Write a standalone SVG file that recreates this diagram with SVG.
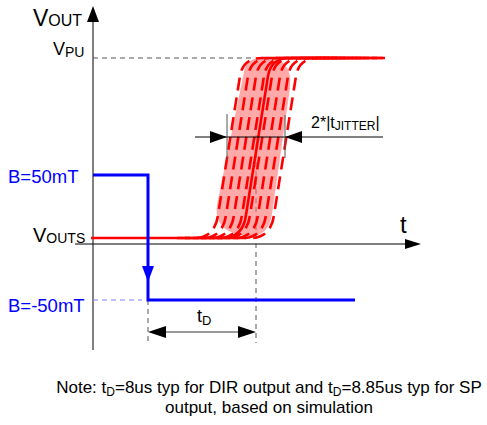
<svg xmlns="http://www.w3.org/2000/svg" width="487" height="425" viewBox="0 0 487 425">
<style>
text{font-family:"Liberation Sans",Arial,sans-serif;fill:#000}
.blue{fill:#0000ff}
.dash{fill:none;stroke:#555;stroke-width:1;stroke-dasharray:5 4}
.rd{fill:none;stroke:#ff0000;stroke-width:2.6;stroke-dasharray:13 7}
.ah{fill:#000}
</style>
<defs>
<path id="tr" d="M 205 238 L 222 238 Q 243 238 246 215 L 268 76 Q 271 58 290 58 L 362 58"/>
</defs>
<rect width="487" height="425" fill="#fff"/>
<g id="axes">
<line x1="93" y1="350" x2="93" y2="18" stroke="#808080" stroke-width="2"/>
<polygon class="ah" points="93,6 87,22 99,22"/>
<line x1="75" y1="244" x2="408" y2="244" stroke="#000" stroke-width="1.2"/>
<polygon class="ah" points="421,244 405,239 405,249"/>
</g>
<g id="labels">
<text x="33" y="26"><tspan font-size="23">V</tspan><tspan font-size="16">OUT</tspan></text>
<text x="53" y="55"><tspan font-size="18">V</tspan><tspan font-size="14" dy="2">PU</tspan></text>
<text x="33" y="242"><tspan font-size="20">V</tspan><tspan font-size="14" dy="1">OUTS</tspan></text>
<text x="8" y="183" font-size="18.5" class="blue">B=50mT</text>
<text x="8" y="312" font-size="18.5" class="blue">B=-50mT</text>
<text x="400" y="233" font-size="24">t</text>
</g>
<g id="connectors">
<line class="dash" x1="93" y1="58" x2="252" y2="58"/>
<line x1="93" y1="300" x2="142" y2="300" stroke="#8080ff" stroke-width="1.2" stroke-dasharray="5 4"/>
<line class="dash" x1="148" y1="300" x2="148" y2="343"/>
<line class="dash" x1="256" y1="135" x2="256" y2="343"/>
</g>
<g id="jitter-band">
<path d="M 245 67 Q 251 56 268 57 Q 293 60 290 88 L 272 214 Q 268 238 248 236 Q 213 233 217 205 Z" fill="#ff7070" fill-opacity="0.6"/>
<use href="#tr" class="rd" transform="translate(-28 0)"/>
<use href="#tr" class="rd" transform="translate(-20 0)"/>
<use href="#tr" class="rd" transform="translate(-12 0)"/>
<use href="#tr" class="rd" transform="translate(-4 0)"/>
<use href="#tr" class="rd" transform="translate(4 0)"/>
<use href="#tr" class="rd" transform="translate(12 0)"/>
<use href="#tr" class="rd" transform="translate(20 0)"/>
<use href="#tr" class="rd" transform="translate(28 0)"/>
<path d="M 91 238 L 222 238 Q 243 238 246 215 L 268 76 Q 271 58 290 58 L 383 58" fill="none" stroke="#ff0000" stroke-width="2.6"/>
</g>
<g id="b-field">
<path d="M 93 175 H 148 V 300 H 355" fill="none" stroke="#0000ff" stroke-width="3"/>
<polygon points="148,282 142,266 154,266" fill="#0000ff"/>
</g>
<g id="jitter-dim">
<line x1="195" y1="137" x2="383" y2="137" stroke="#000" stroke-width="1"/>
<line x1="227" y1="114" x2="227" y2="160" stroke="#555" stroke-width="1"/>
<line x1="285" y1="115" x2="285" y2="158" stroke="#555" stroke-width="1"/>
<polygon class="ah" points="227,137 210,131 210,143"/>
<polygon class="ah" points="285,137 302,131 302,143"/>
<text x="311" y="128"><tspan font-size="16">2*|t</tspan><tspan font-size="12" dy="2">JITTER</tspan><tspan font-size="16" dy="-2">|</tspan></text>
</g>
<g id="td-dim">
<line x1="160" y1="332" x2="244" y2="332" stroke="#333" stroke-width="1"/>
<polygon class="ah" points="148,332 166,326 166,338"/>
<polygon class="ah" points="256,332 238,326 238,338"/>
<text x="197" y="322"><tspan font-size="18">t</tspan><tspan font-size="13" dy="3">D</tspan></text>
</g>
<g id="note">
<text x="269" y="393" font-size="17" text-anchor="middle">Note: t<tspan font-size="12" dy="3">D</tspan><tspan dy="-3">=8us typ for DIR output and t</tspan><tspan font-size="12" dy="3">D</tspan><tspan dy="-3">=8.85us typ for SP</tspan></text>
<text x="269" y="413" font-size="17" text-anchor="middle">output, based on simulation</text>
</g>
</svg>
